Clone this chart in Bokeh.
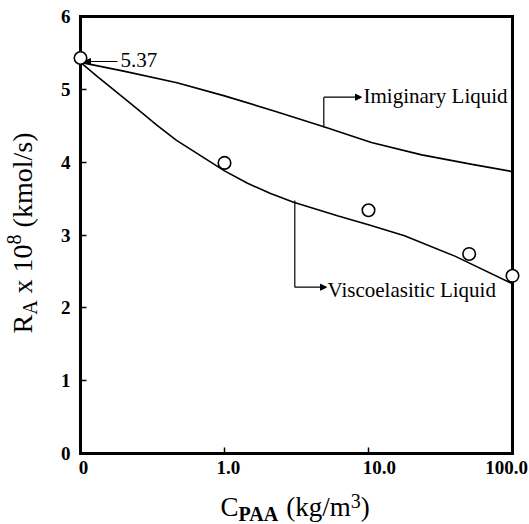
import math
from bokeh.plotting import figure
from bokeh.models import (Range1d, FixedTicker, Label, Arrow, NormalHead,
                          ColumnDataSource, LinearAxis, CustomLabelingPolicy)
from bokeh.embed import file_html
from bokeh.resources import INLINE

# ---------------- data ----------------
# x axis is a decade axis: "0" sits one decade below 1.0 (pseudo-log positions 0..3)
tick_positions = [0, 1, 2, 3]
tick_labels = ["0", "1.0", "10.0", "100.0"]
y_ticks = [0, 1, 2, 3, 4, 5, 6]

exp_conc = [0, 1, 10, 50, 100]              # kg/m3
exp_rate = [5.43, 3.99, 3.34, 2.74, 2.44]   # R_A x 1e8

# curves given as positions on the decade axis
imag_pos = [0.0, 0.30, 0.67, 1.0, 1.35, 1.69, 2.02, 2.37, 2.72, 3.0]
imag_rate = [5.37, 5.25, 5.09, 4.91, 4.70, 4.485, 4.27, 4.10, 3.97, 3.87]

visco_pos = [0.0, 0.12, 0.27, 0.40, 0.53, 0.667, 0.85, 1.0, 1.16, 1.32, 1.48,
             1.79, 2.0, 2.25, 2.6, 3.0]
visco_rate = [5.37, 5.17, 4.93, 4.72, 4.51, 4.30, 4.07, 3.88, 3.71, 3.57, 3.45,
              3.26, 3.14, 2.99, 2.71, 2.33]

ref_value_label = "5.37"
imag_label = "Imiginary Liquid"
visco_label = "Viscoelasitic Liquid"


def conc_to_pos(c):
    return 0.0 if c <= 0.1 else math.log10(c) + 1.0


# ---------------- layout ----------------
W, H = 529, 524
FL, FR, FT, FB = 80, 512, 16, 453      # plot box in canvas pixels
FONT = "Liberation Serif"
BASE_FIX = 0.36                         # baseline correction (em) for rendered labels
# tick labels in the original are hand-placed slightly off their ticks
label_nudge = [0.02, 0.027, 0.075, -0.04]


def dx(px):
    return (px - FL) / (FR - FL) * 3.0


def dy(py):
    return (FB - py) / (FB - FT) * 6.0


p = figure(width=W, height=H, output_backend="svg", toolbar_location=None,
           x_axis_type=None, y_axis_type=None,
           x_range=Range1d(dx(0), dx(W)), y_range=Range1d(dy(H), dy(0)),
           min_border_left=0, min_border_right=0, min_border_top=0, min_border_bottom=0)
p.xgrid.visible = False
p.ygrid.visible = False
p.outline_line_color = None
p.background_fill_color = "white"
p.border_fill_color = "white"


def style_axis(ax):
    ax.axis_line_width = 3
    ax.axis_line_color = "black"
    ax.axis_line_cap = "square"
    ax.major_tick_in = 6
    ax.major_tick_out = 0
    ax.major_tick_line_width = 1.5
    ax.major_tick_line_color = "black"
    ax.minor_tick_line_color = None
    ax.major_label_text_font = FONT
    ax.major_label_text_font_style = "bold"
    ax.major_label_text_font_size = "19px"
    ax.major_label_text_color = "black"


hide_all = CustomLabelingPolicy(code="""
    const all = [...indices]
    for (const i of all) indices.unset(i)
    return indices
""")

# bottom axis: line and ticks (labels drawn by the axis below)
xaxis = LinearAxis(fixed_location=0, bounds=(0, 3), ticker=FixedTicker(ticks=tick_positions),
                   major_label_policy=hide_all)
style_axis(xaxis)
p.add_layout(xaxis, "below")

# bottom axis: tick labels at their (slightly nudged) positions
label_pos = [round(t + n, 3) for t, n in zip(tick_positions, label_nudge)]
xlabels = LinearAxis(fixed_location=0, bounds=(-0.1, 3.0),
                     ticker=FixedTicker(ticks=label_pos),
                     major_label_overrides={lp: l for lp, l in zip(label_pos, tick_labels)})
style_axis(xlabels)
xlabels.axis_line_color = None
xlabels.major_tick_line_color = None
xlabels.major_label_standoff = 7
p.add_layout(xlabels, "below")

yaxis = LinearAxis(fixed_location=0, bounds=(0, 6), ticker=FixedTicker(ticks=y_ticks))
style_axis(yaxis)
yaxis.major_label_standoff = 10
p.add_layout(yaxis, "left")

# top and right sides of the box
top = LinearAxis(fixed_location=6, bounds=(0, 3), ticker=FixedTicker(ticks=[]))
style_axis(top)
p.add_layout(top, "above")
right = LinearAxis(fixed_location=3, bounds=(0, 6), ticker=FixedTicker(ticks=[]))
style_axis(right)
p.add_layout(right, "right")

# ---------------- curves and points ----------------
p.line(imag_pos, imag_rate, line_color="black", line_width=1.6)
p.line(visco_pos, visco_rate, line_color="black", line_width=1.6)

src = ColumnDataSource(dict(x=[conc_to_pos(c) for c in exp_conc], y=exp_rate))
p.scatter("x", "y", source=src, marker="circle", size=12.5,
          fill_color="white", line_color="black", line_width=1.6, level="overlay")


# ---------------- annotations ----------------
def add_label(px, py, text, size, rotated=False, style="normal"):
    """px, py: intended baseline-start point in canvas pixels."""
    shift = BASE_FIX * size
    if rotated:
        x, y, angle = px - shift, py, math.pi / 2
    else:
        x, y, angle = px, py - shift, 0.0
    p.add_layout(Label(x=dx(x), y=dy(y), text=text, text_font=FONT,
                       text_font_size=f"{size}px", text_font_style=style,
                       text_color="black", angle=angle,
                       text_align="left", text_baseline="alphabetic"))


def head():
    return NormalHead(size=6, fill_color="black", line_color="black", line_width=1)


# 5.37 call-out
add_label(120, 67, ref_value_label, 21)
p.add_layout(Arrow(end=head(), x_start=dx(117), y_start=dy(61), x_end=dx(84), y_end=dy(61),
                   line_width=1, line_color="black"))

# Imiginary Liquid leader
p.add_layout(Arrow(end=None, x_start=dx(323.3), y_start=dy(127), x_end=dx(323.3), y_end=dy(96.7),
                   line_width=1.2, line_color="black"))
p.add_layout(Arrow(end=head(), x_start=dx(323.3), y_start=dy(96.7), x_end=dx(361), y_end=dy(96.7),
                   line_width=1.2, line_color="black"))
add_label(363, 103, imag_label, 21)

# Viscoelasitic Liquid leader
p.add_layout(Arrow(end=None, x_start=dx(294.3), y_start=dy(200), x_end=dx(294.3), y_end=dy(286.7),
                   line_width=1.2, line_color="black"))
p.add_layout(Arrow(end=head(), x_start=dx(294.3), y_start=dy(286.7), x_end=dx(326), y_end=dy(286.7),
                   line_width=1.2, line_color="black"))
add_label(327, 297, visco_label, 21)

# ---------------- axis titles (composed for sub/superscripts) ----------------
# advance widths (em) of Times-metric glyphs used below
SP = 0.25
# y title: R_A x 10^8 (kmol/s), rotated, reading upward
F, S = 28, 20
base_x = 31.7
py = 333
add_label(base_x, py, "R", F, True)
py -= 0.667 * F
add_label(base_x + 5, py, "A", S, True)
py -= 0.722 * S + SP * F
add_label(base_x, py, "x 10", F, True)
py -= 1.75 * F
add_label(base_x - 11, py, "8", S, True)
py -= 0.5 * S + SP * F
add_label(base_x, py, "(kmol/s)", F, True)

# x title: C_PAA (kg/m^3)
F2, S2 = 27, 20
base_y = 516
px = 220
add_label(px, base_y, "C", F2)
px += 0.667 * F2
add_label(px, base_y + 5, "PAA", S2, style="bold")
px += 2.055 * S2 + SP * F2
add_label(px, base_y, "(kg/m", F2)
px += 2.389 * F2
add_label(px, base_y - 8, "3", S2)
px += 0.5 * S2
add_label(px, base_y, ")", F2)

open("out.html", "w").write(file_html(p, INLINE))
